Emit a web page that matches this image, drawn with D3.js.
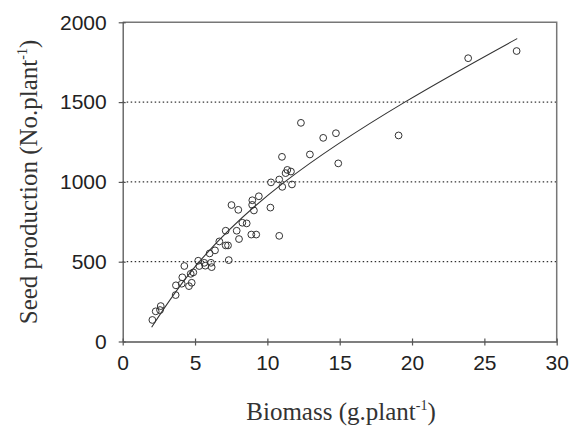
<!DOCTYPE html>
<html><head><meta charset="utf-8">
<script src="https://cdn.jsdelivr.net/npm/d3@7"></script>
<style>
html,body{margin:0;padding:0;background:#fff;}
svg{display:block;}
</style></head>
<body>
<svg id="chart" width="570" height="427"></svg>
<script>
// Observed data (biomass g/plant, seed number/plant)
const biomass = [2.05,2.28,2.58,2.63,3.66,3.68,4.08,4.12,4.26,4.58,4.77,4.70,4.88,5.22,5.29,5.64,5.71,6.10,6.15,6.01,6.38,6.68,7.12,7.28,7.33,7.12,7.88,8.04,8.27,8.57,8.89,9.23,7.52,7.99,8.96,8.95,9.07,9.41,10.21,10.25,10.82,10.82,11.01,11.03,11.26,11.38,11.63,11.70,12.94,12.32,13.86,14.74,14.90,19.07,23.88,27.23];
const seeds   = [135,189,197,222,291,352,362,402,473,347,368,424,433,506,473,493,475,493,466,552,571,627,602,602,510,694,694,642,744,740,670,670,855,825,885,856,821,910,839,997,1015,662,1157,969,1055,1075,1065,984,1172,1370,1276,1305,1116,1291,1775,1820];
// Fitted curve, points
const fitX = [2.0,5.3,11.2,19.5,27.27];
const fitY = [89,500,1000,1500,1898];
const xTicks = [0,5,10,15,20,25,30];
const yTicks = [0,500,1000,1500,2000];
const gridValues = [500,1000,1500];
const xTitle = "Biomass (g.plant";
const yTitle = "Seed production (No.plant";

const svg = d3.select("#chart");
const L = 122.7, R = 556.7, T = 22.3, B = 341.5;
const x = d3.scaleLinear().domain([0,30]).range([L,R]);
const y = d3.scaleLinear().domain([0,2000]).range([B,T]);

// gridlines
svg.append("g").selectAll("line").data(gridValues).join("line")
  .attr("x1",L).attr("x2",R).attr("y1",d=>y(d)).attr("y2",d=>y(d))
  .attr("stroke","#000").attr("stroke-width",1).attr("stroke-dasharray","1.5,2.5");

// frame (top/right)
svg.append("path")
  .attr("d",`M${L},${T}H${R}V${B}`)
  .attr("fill","none").attr("stroke","#777").attr("stroke-width",1.5);

// axes
const fmt = d3.format("d");
const xAxis = d3.axisBottom(x).tickValues(xTicks).tickFormat(fmt).tickSizeInner(4).tickSizeOuter(0).tickPadding(10);
const yAxis = d3.axisLeft(y).tickValues(yTicks).tickFormat(fmt).tickSizeInner(4).tickSizeOuter(0).tickPadding(12);
const gx = svg.append("g").attr("transform",`translate(0,${B})`).call(xAxis);
const gy = svg.append("g").attr("transform",`translate(${L},0)`).call(yAxis);
[gx,gy].forEach(g=>{
  g.select(".domain").attr("stroke","#555").attr("stroke-width",1.3);
  g.selectAll(".tick line").attr("stroke","#555").attr("stroke-width",1.2);
  g.selectAll(".tick text").attr("font-family","'Liberation Sans', Arial, sans-serif")
    .attr("font-size",21).attr("fill","#222");
});
// ticks crossing the axis
gx.selectAll(".tick line").attr("y1",-3);
gy.selectAll(".tick line").attr("x1",3);

// fit curve
const line = d3.line().x(d=>x(d[0])).y(d=>y(d[1])).curve(d3.curveNatural);
svg.append("path").datum(fitX.map((v,i)=>[v,fitY[i]]))
  .attr("d",line).attr("fill","none").attr("stroke","#333").attr("stroke-width",1.1);

// points
svg.append("g").selectAll("circle").data(biomass.map((v,i)=>[v,seeds[i]])).join("circle")
  .attr("cx",d=>x(d[0])).attr("cy",d=>y(d[1])).attr("r",3.4)
  .attr("fill","none").attr("stroke","#333").attr("stroke-width",1);

// titles
const tx = svg.append("text").attr("x",341).attr("y",420).attr("text-anchor","middle")
  .attr("font-family","'Liberation Serif','Times New Roman',serif").attr("font-size",25).attr("fill","#333");
tx.append("tspan").text(xTitle);
tx.append("tspan").attr("dy",-10).attr("font-size",14).text("-1");
tx.append("tspan").attr("dy",10).text(")");

const ty = svg.append("text").attr("transform","translate(37,182) rotate(-90)").attr("text-anchor","middle")
  .attr("font-family","'Liberation Serif','Times New Roman',serif").attr("font-size",25).attr("fill","#333");
ty.append("tspan").text(yTitle);
ty.append("tspan").attr("dy",-10).attr("font-size",14).text("-1");
ty.append("tspan").attr("dy",10).text(")");
</script>
</body></html>
